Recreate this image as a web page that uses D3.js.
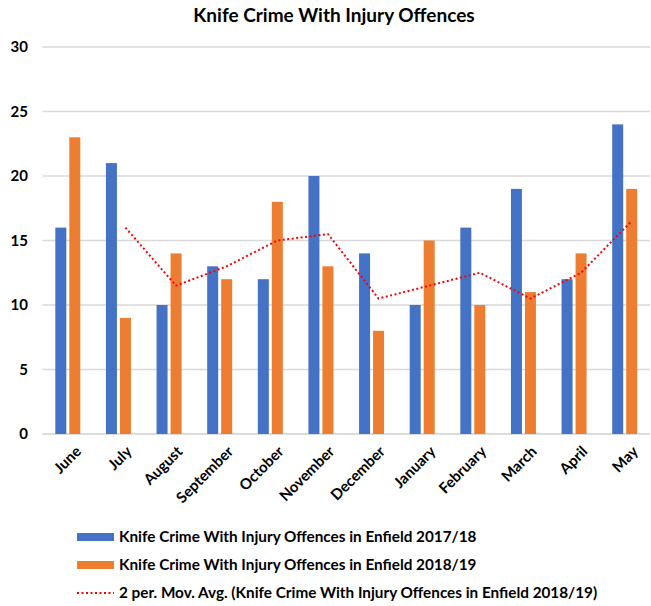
<!DOCTYPE html>
<html><head><meta charset="utf-8">
<script src="https://cdn.jsdelivr.net/npm/d3@7"></script>
<style>body{margin:0;background:#fff}svg{display:block}text{font-family:Lato,"Open Sans",sans-serif;font-weight:bold;fill:#000}</style>
</head><body><svg id="c" width="651" height="606"></svg>
<script>
const months = ["June","July","August","September","October","November","December","January","February","March","April","May"];
const crime1718 = [16,21,10,13,12,20,14,10,16,19,12,24];
const crime1819 = [23,9,14,12,18,13,8,15,10,11,14,19];
const movAvg = [null,16,11.5,13,15,15.5,10.5,11.5,12.5,10.5,12.5,16.5];
const yTicks = [0,5,10,15,20,25,30];
const seriesNames = ["Knife Crime With Injury Offences in Enfield 2017/18","Knife Crime With Injury Offences in Enfield 2018/19","2 per. Mov. Avg. (Knife Crime With Injury Offences in Enfield 2018/19)"];
const colors = ["#4472C4","#ED7D31","#FF0000"];

const svg = d3.select("#c");
const x = d3.scaleBand().domain(months).range([42.5,650]);
const y = d3.scaleLinear().domain([0,30]).range([434,47]);
const bw = 11, gap = 3;

svg.append("text").attr("x",334).attr("y",22).attr("text-anchor","middle").style("font-size","19px").text("Knife Crime With Injury Offences");

svg.append("g").selectAll("line").data(yTicks).join("line")
  .attr("x1",42.5).attr("x2",650).attr("y1",d=>y(d)).attr("y2",d=>y(d))
  .attr("stroke",d=>d===0?"#d0d0d0":"#d9d9d9").attr("stroke-width",1.3);
svg.append("g").selectAll("text").data(yTicks).join("text")
  .attr("x",28).attr("y",d=>y(d)+5).attr("text-anchor","end").style("font-size","15px").text(d=>d);

const cx = m => x(m)+x.bandwidth()/2;
svg.append("g").selectAll("rect").data(months).join("rect")
  .attr("x",(m)=>cx(m)-gap/2-bw).attr("width",bw)
  .attr("y",(m,i)=>y(crime1718[i])).attr("height",(m,i)=>y(0)-y(crime1718[i]))
  .attr("fill",colors[0]);
svg.append("g").selectAll("rect").data(months).join("rect")
  .attr("x",(m)=>cx(m)+gap/2).attr("width",bw)
  .attr("y",(m,i)=>y(crime1819[i])).attr("height",(m,i)=>y(0)-y(crime1819[i]))
  .attr("fill",colors[1]);

const line = d3.line().defined(d=>d.v!=null).x(d=>cx(d.m)+gap/2+bw/2).y(d=>y(d.v));
svg.append("path").datum(months.map((m,i)=>({m,v:movAvg[i]})))
  .attr("d",line).attr("fill","none").attr("stroke",colors[2]).attr("stroke-width",2)
  .attr("stroke-dasharray","2,2.5");

svg.append("g").selectAll("text").data(months).join("text")
  .attr("transform",m=>`translate(${cx(m)+7},${445}) rotate(-45)`)
  .attr("text-anchor","end").attr("dy","0.7em").style("font-size","15px").text(m=>m);

const ly = [537,565,593];
const lg = svg.append("g");
[0,1].forEach(i=>{
  lg.append("rect").attr("x",77).attr("y",ly[i]-4).attr("width",37).attr("height",8).attr("fill",colors[i]);
});
lg.append("line").attr("x1",77).attr("x2",114).attr("y1",ly[2]).attr("y2",ly[2]).attr("stroke",colors[2]).attr("stroke-width",2).attr("stroke-dasharray","2,2.5");
lg.selectAll("text").data(seriesNames).join("text").attr("x",119).attr("y",(d,i)=>ly[i]+5).style("font-size","15.3px").text(d=>d);
</script></body></html>
